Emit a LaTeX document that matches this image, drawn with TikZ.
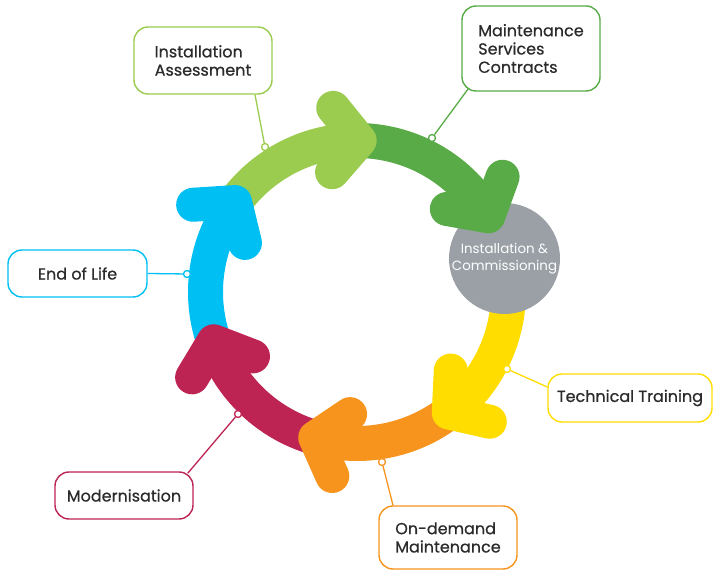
\documentclass[tikz,border=0pt]{standalone}
\usepackage{fontspec}
\setmainfont{Poppins}
\newfontfamily\lblfont{Poppins}[FakeBold=0.6]
\usetikzlibrary{calc}
\definecolor{cLG}{HTML}{9BCB4F}
\definecolor{cDG}{HTML}{58AB47}
\definecolor{cGR}{HTML}{9AA0A6}
\definecolor{cYE}{HTML}{FFDD00}
\definecolor{cOR}{HTML}{F7941E}
\definecolor{cCR}{HTML}{BE2453}
\definecolor{cBL}{HTML}{00BFF3}
\definecolor{txt}{HTML}{2B2B2B}
\begin{document}
\begin{tikzpicture}[x=1pt,y=1pt,
  band/.style={line width=35},
  chev/.style={line width=34, line cap=round, line join=round},
  lbl/.style={draw=#1, line width=1.4, rounded corners=14, fill=white, align=left,
    text=txt, font=\lblfont\fontsize{16}{18.3}\selectfont, minimum width=138, inner sep=0},
  dot/.style={circle, draw=#1, fill=white, line width=1.3, minimum size=7, inner sep=0},
  lead/.style={draw=#1, line width=1.3}]
\useasboundingbox (0,0) rectangle (713,571);
\coordinate (C) at (357,279);
\def\R{151.5}
% bands
\foreach \a/\b/\c in {143.6/89/cLG, 89/30/cDG, 8/-52.7/cYE, -52.7/-106/cOR, -106/-161/cCR, 199/143.6/cBL}
  \draw[\c, band] ($(C)+(\a:\R)$) arc[start angle=\a, end angle=\b, radius=\R];
% centre circle
\node[circle, fill=cGR, minimum size=111, inner sep=0, text=white, align=center,
  font=\fontsize{13.4}{17}\selectfont] (ic) at (504.5,312.5) {Installation \&\\Commissioning};
% chevrons
\foreach \t/\c in {89/cLG, 30/cDG, -52.7/cYE, -106/cOR, -161/cCR, 143.6/cBL}
  \draw[\c, chev] ($(C)+(\t:\R)+({\t+140}:42)$) -- ($(C)+(\t:\R)$) -- ($(C)+(\t:\R)+({\t+40}:42)$);
% label boxes
\node[lbl=cLG, minimum height=67] (ia) at (203,510.5) {Installation\\Assessment};
\node[lbl=cDG, minimum height=85] (msc) at (531,522.5) {Maintenance\\Services\\Contracts};
\node[lbl=cBL, minimum height=47, minimum width=139] (eol) at (77.5,297.5) {End of Life};
\node[lbl=cYE, minimum height=48, minimum width=164] (tt) at (630,173) {Technical Training};
\node[lbl=cOR, minimum height=63] (od) at (448,33.5) {On-demand\\Maintenance};
\node[lbl=cCR, minimum height=47] (mod) at (124,75.5) {Modernisation};
% dots
\node[dot=cLG] (d1) at (265,424) {};
\node[dot=cDG] (d2) at (432,433) {};
\node[dot=cBL] (d3) at (187,297) {};
\node[dot=cYE] (d4) at (507,202) {};
\node[dot=cOR] (d5) at (382,109) {};
\node[dot=cCR] (d6) at (238,157) {};
% leaders
\draw[lead=cLG] ($(ia.south)+(52,0)$) -- (d1);
\draw[lead=cDG] ($(msc.south west)+(7,3)$) -- (d2);
\draw[lead=cBL] (eol.east) -- (d3);
\draw[lead=cYE] ($(tt.west)+(0,11)$) -- (d4);
\draw[lead=cOR] ($(od.north)+(-55,0)$) -- (d5);
\draw[lead=cCR] ($(mod.north east)+(-6,-2)$) -- (d6);
\end{tikzpicture}
\end{document}
